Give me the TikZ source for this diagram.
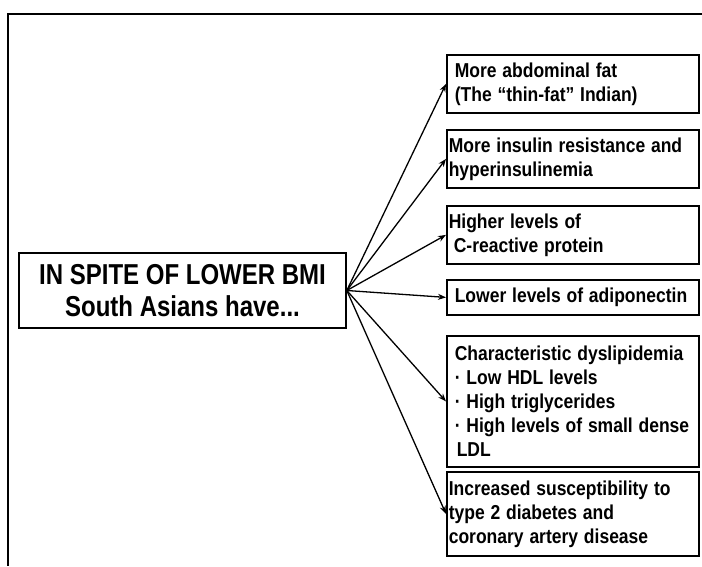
\documentclass[tikz,border=0pt]{standalone}
\usepackage{fontspec}
\usetikzlibrary{arrows.meta}
\setmainfont{Liberation Sans}
\begin{document}
\begin{tikzpicture}[x=1pt,y=1pt,>={Stealth[length=8pt,width=6pt]}]

%
% Styles
%
\tikzstyle{cause} = [rectangle,draw,line width=1.6pt,yscale=1.2,transform shape,minimum width=327pt,minimum height=62.5pt,align=center,font=\bfseries\fontsize{24}{26}\selectfont]
\tikzstyle{finding} = [rectangle,draw,line width=1.6pt,yscale=1.15,transform shape,anchor=north west,inner xsep=8pt,text width=236pt,align=left,font=\bfseries\fontsize{17.5}{20.9}\selectfont]
\tikzstyle{tight} = [inner xsep=2pt,text width=248pt]

\useasboundingbox (0,0) rectangle (702,566);
\draw[line width=1.6pt] (702,552) -- (8,552) -- (8,0);

\node[cause] (bmi) at (182.5,275.5) {IN SPITE OF LOWER BMI\\South Asians have...};

\node[finding,minimum height=50.4pt] (fat) at (446,512) {More abdominal fat\\(The “thin-fat” Indian)};
\node[finding,tight,minimum height=50.4pt] (insulin) at (446,437) {More insulin resistance and\\hyperinsulinemia};
\node[finding,tight,minimum height=50.4pt] (crp) at (446,361) {Higher levels of\\\hspace*{5pt}C-reactive protein};
\node[finding,minimum height=30.4pt] (adipo) at (446,287) {Lower levels of adiponectin};
\node[finding,minimum height=113.9pt] (lipid) at (446,231) {Characteristic dyslipidemia\\· Low HDL levels\\· High triglycerides\\· High levels of small dense\\\hspace*{2pt}LDL};
\node[finding,tight,minimum height=73pt] (diab) at (446,95) {Increased susceptibility to\\type 2 diabetes and\\coronary artery disease};

\draw[->,line width=1.3pt] (bmi.east) -- (fat.west);
\draw[->,line width=1.3pt] (bmi.east) -- (insulin.west);
\draw[->,line width=1.3pt] (bmi.east) -- (crp.west);
\draw[->,line width=1.3pt] (bmi.east) -- (adipo.west);
\draw[->,line width=1.3pt] (bmi.east) -- (lipid.west);
\draw[->,line width=1.3pt] (bmi.east) -- (diab.west);

\end{tikzpicture}
\end{document}
